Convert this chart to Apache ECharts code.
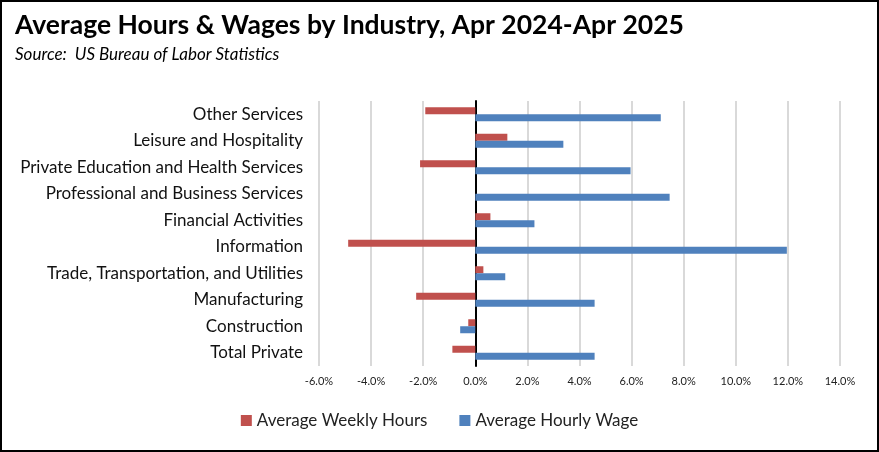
<!DOCTYPE html>
<html>
<head>
<meta charset="utf-8">
<script src="https://cdn.jsdelivr.net/npm/echarts@6/dist/echarts.min.js"></script>
<style>
html,body{margin:0;padding:0;background:#fff;}
#chart{width:879px;height:452px;}
</style>
</head>
<body>
<div id="chart"></div>
<script>
const categories = ['Total Private','Construction','Manufacturing','Trade, Transportation, and Utilities','Information','Financial Activities','Professional and Business Services','Private Education and Health Services','Leisure and Hospitality','Other Services'];
const weeklyHours = [-0.88, -0.27, -2.27, 0.31, -4.88, 0.58, 0.0, -2.12, 1.23, -1.92];
const hourlyWage = [4.58, -0.58, 4.58, 1.15, 11.96, 2.27, 7.46, 5.96, 3.38, 7.12];
const seriesNames = ['Average Weekly Hours','Average Hourly Wage'];
const titleText = 'Average Hours & Wages by Industry, Apr 2024-Apr 2025';
const subtitleText = 'Source:  US Bureau of Labor Statistics';

const FONT = 'Lato';
const chart = echarts.init(document.getElementById('chart'));
chart.setOption({
  backgroundColor: '#fff',
  animation: false,
  title: {
    text: titleText,
    subtext: subtitleText,
    left: 10, top: 7,
    itemGap: 7,
    textStyle: {fontFamily: FONT, fontWeight: 'bold', fontSize: 26.5, color: '#000'},
    subtextStyle: {fontFamily: FONT, fontStyle: 'italic', fontSize: 17, color: '#000'}
  },
  graphic: [{
    type: 'rect', silent: true,
    shape: {x: 1, y: 1, width: 877, height: 450},
    style: {fill: 'none', stroke: '#000', lineWidth: 2}
  }],
  legend: {
    data: seriesNames,
    bottom: 18, left: 'center',
    itemWidth: 11, itemHeight: 11, itemGap: 32,
    icon: 'rect',
    textStyle: {fontFamily: FONT, fontSize: 17, color: '#222'}
  },
  grid: {left: 319, right: 39, top: 101, bottom: 86, containLabel: false},
  xAxis: {
    type: 'value', min: -6, max: 14, interval: 2,
    axisLine: {show: false}, axisTick: {show: false},
    splitLine: {show: true, lineStyle: {color: '#d9d9d9', width: 2}},
    axisLabel: {fontFamily: FONT, fontSize: 11, color: '#222', margin: 10,
      formatter: v => v.toFixed(1) + '%'}
  },
  yAxis: {
    type: 'category', data: categories,
    axisLine: {show: true, onZero: true, lineStyle: {color: '#000', width: 2}},
    axisTick: {show: false},
    axisLabel: {fontFamily: FONT, fontSize: 17, color: '#111', margin: 16}
  },
  series: [
    {name: seriesNames[0], type: 'bar', data: weeklyHours, barWidth: 7, barGap: '0%',
     itemStyle: {color: '#C0504D'}},
    {name: seriesNames[1], type: 'bar', data: hourlyWage, barWidth: 7, barGap: '0%',
     itemStyle: {color: '#4F81BD'}}
  ]
});
</script>
</body>
</html>
